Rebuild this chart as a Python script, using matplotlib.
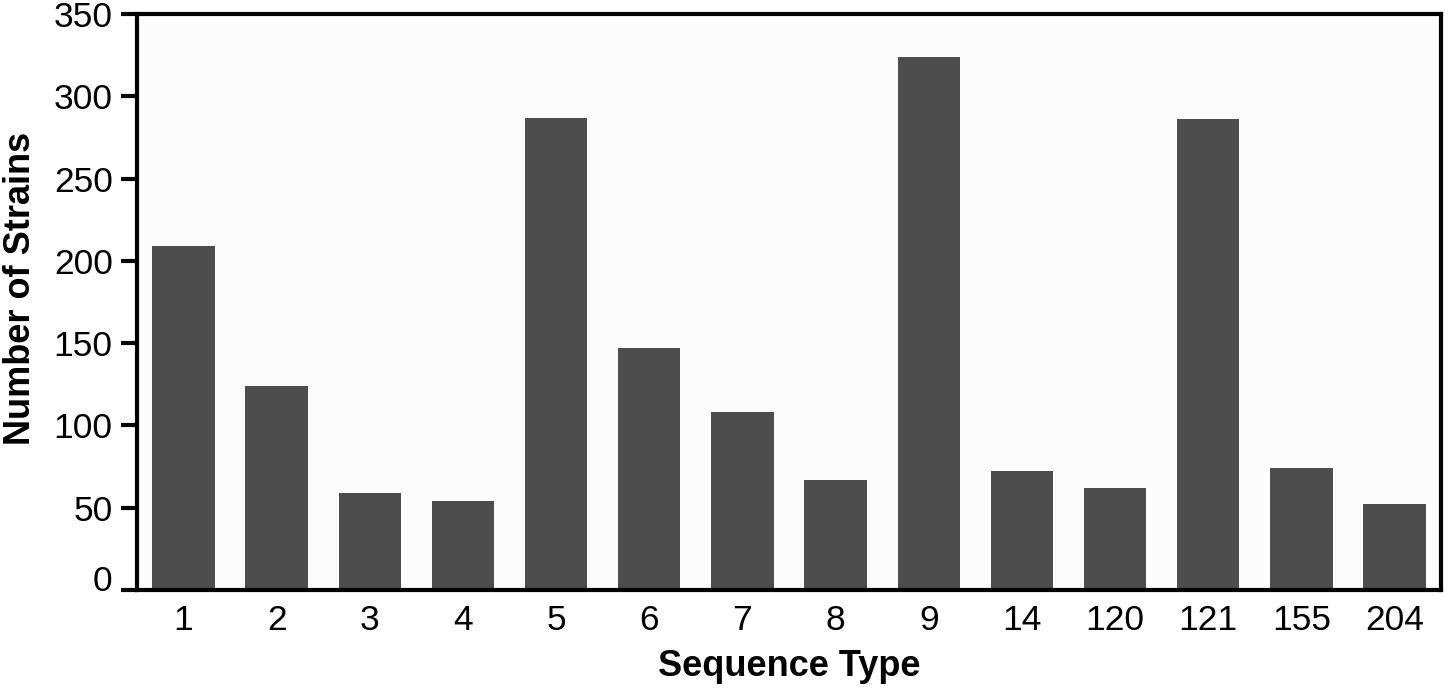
import numpy as np
import matplotlib.pyplot as plt
from matplotlib.transforms import ScaledTranslation

plt.rcParams['font.family'] = ['Liberation Sans', 'DejaVu Sans']

sequence_types = ['1', '2', '3', '4', '5', '6', '7', '8', '9', '14', '120', '121', '155', '204']
num_strains = [209, 124, 59, 54, 287, 147, 108, 67, 324, 72, 62, 286, 74, 52]

fig = plt.figure(figsize=(14.48, 6.89), dpi=100)
ax = fig.add_axes([0.0946, 0.1437, 0.9006, 0.836])
ax.set_facecolor('#fcfcfc')

x = np.arange(len(sequence_types))
ax.bar(x, num_strains, width=0.67, color='#4d4d4d')

ax.set_xlim(-0.5, len(sequence_types) - 0.5)
ax.set_ylim(0, 350)
ax.set_yticks(np.arange(0, 351, 50))
ax.set_xticks(x)
ax.set_xticklabels(sequence_types)

for s in ax.spines.values():
    s.set_linewidth(3)
ax.tick_params(axis='y', length=11.5, width=3, labelsize=25.5, pad=6)
ax.tick_params(axis='x', length=0, labelsize=25.5, pad=10)

# the zero label sits a bit above its tick in the original
fig.canvas.draw()
lab0 = ax.get_yticklabels()[0]
lab0.set_transform(lab0.get_transform() + ScaledTranslation(0, 12 / 100, fig.dpi_scale_trans))

ax.set_xlabel('Sequence Type', fontsize=26, fontweight='bold', labelpad=9)
ax.set_ylabel('Number of Strains', fontsize=26, fontweight='bold', labelpad=11)
ax.yaxis.label.set_y(0.523)

fig.savefig('out.png', dpi=100)
